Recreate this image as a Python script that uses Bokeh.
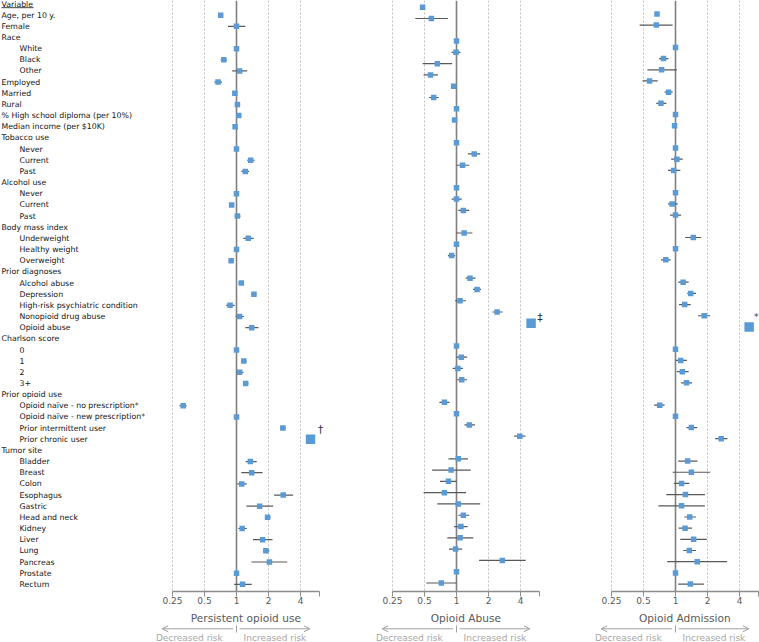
import math
from bokeh.plotting import figure
from bokeh.layouts import row, column
from bokeh.models import Range1d, FixedTicker, Span, Arrow, OpenHead, ColumnDataSource
from bokeh.core.properties import value
from bokeh.embed import file_html
from bokeh.resources import INLINE

# ---------------- data ----------------
variables = [
    "Age, per 10 y.", "Female", "Race", "White", "Black", "Other", "Employed", "Married", "Rural",
    "% High school diploma (per 10%)", "Median income (per $10K)",
    "Tobacco use", "Never", "Current", "Past",
    "Alcohol use", "Never", "Current", "Past",
    "Body mass index", "Underweight", "Healthy weight", "Overweight",
    "Prior diagnoses", "Alcohol abuse", "Depression", "High-risk psychiatric condition",
    "Nonopioid drug abuse", "Opioid abuse",
    "Charlson score", "0", "1", "2", "3+",
    "Prior opioid use", "Opioid naïve - no prescription*", "Opioid naïve - new prescription*",
    "Prior intermittent user", "Prior chronic user",
    "Tumor site", "Bladder", "Breast", "Colon", "Esophagus", "Gastric", "Head and neck",
    "Kidney", "Liver", "Lung", "Pancreas", "Prostate", "Rectum",
]
indent = [0, 0, 0, 1, 1, 1, 0, 0, 0, 0, 0,
          0, 1, 1, 1,
          0, 1, 1, 1,
          0, 1, 1, 1,
          0, 1, 1, 1, 1, 1,
          0, 1, 1, 1, 1,
          0, 1, 1, 1, 1,
          0, 1, 1, 1, 1, 1, 1, 1, 1, 1, 1, 1, 1]
N = None

persist_est = [0.71, 1.00, N, 1.00, 0.76, 1.07, 0.67, 0.965, 1.02, 1.05, 0.97,
               N, 1.00, 1.36, 1.21, N, 1.00, 0.90, 1.02, N, 1.29, 1.00, 0.89,
               N, 1.11, 1.46, 0.87, 1.07, 1.39, N, 1.00, 1.17, 1.07, 1.22,
               N, 0.315, 1.00, 2.73, 4.97,
               N, 1.35, 1.39, 1.12, 2.75, 1.65, 1.96, 1.13, 1.76, 1.89, 2.04, 1.00, 1.14]
persist_lo = [0.69, 0.83, N, 1.00, 0.71, 0.91, 0.62, 0.94, 0.97, 1.02, 0.95,
              N, 1.00, 1.26, 1.11, N, 1.00, 0.85, 0.96, N, 1.16, 1.00, 0.85,
              N, 1.04, 1.38, 0.80, 0.98, 1.21, N, 1.00, 1.10, 0.99, 1.15,
              N, 0.29, 1.00, 2.57, N,
              N, 1.22, 1.11, 1.02, 2.26, 1.24, 1.85, 1.04, 1.43, 1.77, 1.38, 1.00, 0.95]
persist_hi = [0.73, 1.21, N, 1.00, 0.81, 1.26, 0.73, 0.99, 1.08, 1.08, 0.99,
              N, 1.00, 1.48, 1.31, N, 1.00, 0.95, 1.09, N, 1.45, 1.00, 0.94,
              N, 1.18, 1.53, 0.96, 1.18, 1.61, N, 1.00, 1.25, 1.16, 1.29,
              N, 0.34, 1.00, 2.91, N,
              N, 1.55, 1.76, 1.25, 3.41, 2.21, 2.09, 1.25, 2.18, 2.04, 3.00, 1.00, 1.39]
persist_notes = {"Prior chronic user": "†"}

abuse_est = [0.48, 0.58, N, 1.00, 0.99, 0.66, 0.57, 0.94, 0.61, 1.00, 0.96,
             N, 1.00, 1.47, 1.14, N, 1.00, 1.00, 1.16, N, 1.18, 1.00, 0.90,
             N, 1.34, 1.56, 1.08, 2.41, 5.03, N, 1.00, 1.11, 1.03, 1.12,
             N, 0.77, 1.00, 1.32, 3.94,
             N, 1.04, 0.89, 0.84, 0.77, 1.04, 1.16, 1.10, 1.08, 0.98, 2.70, 1.00, 0.72]
abuse_lo = [0.46, 0.41, N, 1.00, 0.90, 0.48, 0.49, 0.89, 0.55, 0.98, 0.94,
            N, 1.00, 1.28, 1.00, N, 1.00, 0.90, 1.04, N, 1.00, 1.00, 0.83,
            N, 1.22, 1.43, 0.97, 2.18, N, N, 1.00, 1.00, 0.92, 1.01,
            N, 0.69, 1.00, 1.19, 3.49,
            N, 0.84, 0.59, 0.70, 0.49, 0.66, 1.04, 0.95, 0.82, 0.85, 1.63, 1.00, 0.52]
abuse_hi = [0.50, 0.83, N, 1.00, 1.09, 0.91, 0.67, 1.00, 0.68, 1.02, 0.98,
            N, 1.00, 1.67, 1.32, N, 1.00, 1.12, 1.32, N, 1.41, 1.00, 0.97,
            N, 1.51, 1.70, 1.23, 2.72, N, N, 1.00, 1.26, 1.15, 1.26,
            N, 0.86, 1.00, 1.49, 4.45,
            N, 1.28, 1.36, 1.00, 1.23, 1.67, 1.32, 1.27, 1.44, 1.13, 4.48, 1.00, 1.00]
abuse_notes = {"Opioid abuse": "‡"}

admit_est = [0.67, 0.66, N, 1.00, 0.77, 0.74, 0.57, 0.86, 0.73, 1.00, 0.98,
             N, 1.00, 1.03, 0.96, N, 1.00, 0.93, 1.00, N, 1.47, 1.00, 0.81,
             N, 1.18, 1.39, 1.22, 1.86, 4.93, N, 1.00, 1.12, 1.16, 1.27,
             N, 0.71, 1.00, 1.41, 2.69,
             N, 1.30, 1.41, 1.14, 1.24, 1.14, 1.36, 1.23, 1.48, 1.35, 1.60, 1.00, 1.38]
admit_lo = [0.65, 0.46, N, 1.00, 0.70, 0.545, 0.49, 0.79, 0.66, 0.97, 0.96,
            N, 1.00, 0.91, 0.85, N, 1.00, 0.85, 0.89, N, 1.23, 1.00, 0.73,
            N, 1.06, 1.29, 1.08, 1.63, N, N, 1.00, 1.00, 1.03, 1.13,
            N, 0.63, 1.00, 1.27, 2.36,
            N, 1.06, 0.94, 0.97, 0.82, 0.69, 1.21, 1.07, 1.11, 1.18, 0.835, 1.00, 1.06]
admit_hi = [0.69, 0.94, N, 1.00, 0.86, 1.03, 0.68, 0.94, 0.82, 1.03, 1.00,
            N, 1.00, 1.17, 1.11, N, 1.00, 1.05, 1.13, N, 1.74, 1.00, 0.90,
            N, 1.33, 1.56, 1.39, 2.12, N, N, 1.00, 1.28, 1.33, 1.43,
            N, 0.79, 1.00, 1.60, 3.08,
            N, 1.61, 2.12, 1.35, 1.89, 1.89, 1.56, 1.43, 1.97, 1.56, 3.06, 1.00, 1.85]
admit_notes = {"Opioid abuse": "*"}

tick_values = [0.25, 0.5, 1, 2, 4]
tick_labels = ["0.25", "0.5", "1", "2", "4"]
AXIS_MAX = 6.0

# ---------------- style / geometry ----------------
FONT = value("DejaVu Sans")
BLUE = "#5b9bd5"
S = 32.0            # px per doubling
X1_PX = 68          # px from frame left to value 1
LB = 13
FRAME_W = [159, 159, 152]
RB = [48, 47, 0]
LABEL_W = 155
FRAME_H = 591
MAIN_BOTTOM = 18
ARROW_H = 33


def yr(row0_px, pitch):
    return Range1d(start=(FRAME_H - row0_px) / pitch, end=-row0_px / pitch)


yr1 = yr(3.5, 11.16)
yr2 = yr(-4.6, 11.29)
yr3 = yr(2.2, 11.18)

panels = [
    dict(title="Persistent opioid use", est=persist_est, lo=persist_lo, hi=persist_hi,
         notes=persist_notes, yr=yr1, note_off=(10, -10), note_size="11px"),
    dict(title="Opioid Abuse", est=abuse_est, lo=abuse_lo, hi=abuse_hi,
         notes=abuse_notes, yr=yr2, note_off=(9, -6), note_size="11px"),
    dict(title="Opioid Admission", est=admit_est, lo=admit_lo, hi=admit_hi,
         notes=admit_notes, yr=yr3, note_off=(7, -10), note_size="9px"),
]


def base_fig(**kw):
    p = figure(output_backend="svg", toolbar_location=None, y_axis_location=None,
               min_border_top=0, **kw)
    p.outline_line_color = None
    p.background_fill_color = "white"
    p.border_fill_color = "white"
    try:
        p.frame_align = False
    except Exception:
        pass
    return p


# label column
lab = base_fig(width=LABEL_W, height=FRAME_H + MAIN_BOTTOM + ARROW_H,
               x_range=Range1d(0, LABEL_W), y_range=yr1, x_axis_location=None,
               min_border_left=0, min_border_right=0, min_border_bottom=MAIN_BOTTOM + ARROW_H)
lab.grid.visible = False
lab_src = ColumnDataSource(dict(
    x=[1 + 18 * i for i in indent], y=[j + 1 for j in range(len(variables))], t=variables))
lab.text(x="x", y="y", text="t", source=lab_src, text_font=FONT, text_font_size="7.8px",
         text_color="#141414", text_baseline="middle", text_align="left")
lab.text(x=[1], y=[0], text=["Variable"], text_font=FONT, text_font_size="7.8px",
         text_color="#141414", text_baseline="middle", text_align="left")
lab.segment(x0=[1], y0=[0.33], x1=[33], y1=[0.33], line_color="#141414", line_width=0.8)

cols = []
for k, cfg in enumerate(panels):
    W = FRAME_W[k]
    xr = Range1d(2 ** (-X1_PX / S), 2 ** ((W - X1_PX) / S))
    p = base_fig(width=LB + W + RB[k], height=FRAME_H + MAIN_BOTTOM, x_axis_type="log",
                 x_range=xr, y_range=cfg["yr"], min_border_left=LB, min_border_right=RB[k],
                 min_border_bottom=MAIN_BOTTOM)
    p.ygrid.visible = False
    p.xgrid.ticker = FixedTicker(ticks=[0.25, 0.5, 2, 4])
    p.xgrid.grid_line_color = "#bfbfbf"
    p.xgrid.grid_line_dash = "2 2"
    p.xgrid.grid_line_width = 1

    ax = p.xaxis[0]
    ax.ticker = FixedTicker(ticks=tick_values + [AXIS_MAX])
    ov = {float(t): l for t, l in zip(tick_values, tick_labels)}
    ov[AXIS_MAX] = ""
    ax.major_label_overrides = ov
    ax.bounds = (tick_values[0], AXIS_MAX)
    ax.axis_line_color = "#8c8c8c"
    ax.axis_line_width = 1.5
    ax.major_tick_line_color = "#8c8c8c"
    ax.major_tick_line_width = 1
    ax.major_tick_out = 5
    ax.major_tick_in = 0
    ax.minor_tick_line_color = None
    ax.major_label_text_font = "DejaVu Sans"
    ax.major_label_text_font_size = "9px"
    ax.major_label_text_color = "#595959"
    ax.major_label_standoff = 0

    sp = Span(location=1, dimension="height", line_color="#808080", line_width=1.6,
              level="underlay")
    p.add_layout(sp)

    est, lo, hi, notes = cfg["est"], cfg["lo"], cfg["hi"], cfg["notes"]
    seg = dict(y=[], lo=[], hi=[])
    pts = dict(y=[], x=[])
    big = dict(y=[], x=[], t=[])
    for j, name in enumerate(variables):
        e = est[j]
        if e is None:
            continue
        if name in notes:
            big["y"].append(j + 1); big["x"].append(e); big["t"].append(notes[name])
            continue
        pts["y"].append(j + 1); pts["x"].append(e)
        if lo[j] is not None and hi[j] is not None and hi[j] > lo[j]:
            seg["y"].append(j + 1); seg["lo"].append(lo[j]); seg["hi"].append(hi[j])
    p.segment(x0="lo", y0="y", x1="hi", y1="y", source=ColumnDataSource(seg),
              line_color="#595959", line_width=1.2)
    p.scatter(x="x", y="y", source=ColumnDataSource(pts), marker="square", size=5.5,
              fill_color=BLUE, line_color=None)
    bsrc = ColumnDataSource(big)
    p.scatter(x="x", y="y", source=bsrc, marker="square", size=9.5,
              fill_color=BLUE, line_color=None)
    p.text(x="x", y="y", text="t", source=bsrc, x_offset=cfg["note_off"][0],
           y_offset=cfg["note_off"][1], text_font=FONT, text_font_size=cfg["note_size"],
           text_color="#333333", text_align="center", text_baseline="middle")

    # bottom strip: axis title and risk arrows (frame covers whole strip)
    AW = LB + W + RB[k]
    axr = Range1d(2 ** (-(X1_PX + LB) / S), 2 ** ((W + RB[k] - X1_PX) / S))
    a = base_fig(width=AW, height=ARROW_H, x_axis_type="log", x_range=axr,
                 y_range=Range1d(ARROW_H, 0), x_axis_location=None,
                 min_border_left=0, min_border_right=0, min_border_bottom=0)
    a.grid.visible = False
    a.text(x=[math.sqrt(tick_values[0] * AXIS_MAX)], y=[8.3], text=[cfg["title"]],
           text_font=FONT, text_font_size="10.6px", text_color="#595959",
           text_align="center", text_baseline="middle")
    ac = "#a0a0a0"
    a.add_layout(Arrow(end=OpenHead(size=6, line_color=ac, line_width=1),
                       x_start=0.93, y_start=19.3, x_end=0.2, y_end=19.3,
                       line_color=ac, line_width=1))
    a.add_layout(Arrow(end=OpenHead(size=6, line_color=ac, line_width=1),
                       x_start=1.07, y_start=19.3, x_end=4.9, y_end=19.3,
                       line_color=ac, line_width=1))
    a.segment(x0=[1], y0=[16], x1=[1], y1=[23], line_color=ac, line_width=1)
    a.text(x=[0.36, 2.3], y=[28.4, 28.4], text=["Decreased risk", "Increased risk"],
           text_font=FONT, text_font_size="9px", text_color="#a6a6a6",
           text_align="center", text_baseline="middle")
    cols.append(column(p, a, spacing=0))

layout = row([lab] + cols, spacing=0)
open("out.html", "w").write(file_html(layout, INLINE))
